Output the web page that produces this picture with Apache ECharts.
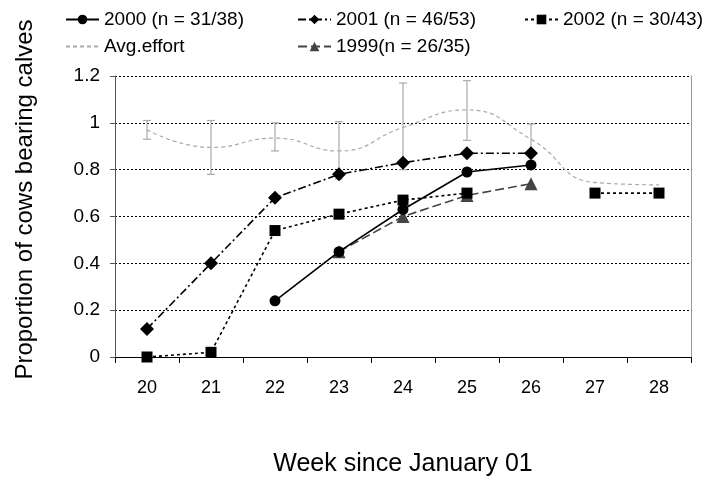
<!DOCTYPE html>
<html>
<head>
<meta charset="utf-8">
<script src="https://cdn.jsdelivr.net/npm/echarts@6/dist/echarts.min.js"></script>
<style>html,body{margin:0;padding:0;background:#fff;}#c{width:721px;height:482px;}</style>
</head>
<body>
<div id="c"></div>
<script>
var weeks = ['20','21','22','23','24','25','26','27','28'];
var y2000 = [null, null, 0.24, 0.45, 0.63, 0.79, 0.82, null, null];
var y2001 = [0.12, 0.40, 0.68, 0.78, 0.83, 0.87, 0.87, null, null];
var y2002 = [0.00, 0.02, 0.54, 0.61, 0.67, 0.70, null, 0.70, 0.70];
var y1999 = [null, null, null, 0.45, 0.60, 0.69, 0.74, null, null];
var avgEffort = [0.97, 0.895, 0.935, 0.88, 0.98, 1.055, 0.93, 0.745, 0.735];
var avgLow  = [0.93, 0.78, 0.88, 0.76, 0.80, 0.925, 0.87, null, null];
var avgHigh = [1.01, 1.01, 1.00, 1.005, 1.17, 1.18, 0.995, null, null];
var yTicks = [0, 0.2, 0.4, 0.6, 0.8, 1, 1.2];
var names = ['2000 (n = 31/38)', '2001 (n = 46/53)', '2002 (n = 30/43)', 'Avg.effort', '1999(n = 26/35)'];

var FONT = "'Liberation Sans', Arial, sans-serif";
var errData = [];
for (var i = 0; i < weeks.length; i++) {
  if (avgLow[i] != null && avgHigh[i] != null) errData.push([i, avgLow[i], avgHigh[i]]);
}

function legendAt(item, left, top) {
  return {
    data: [item], left: left, top: top, padding: 0,
    itemWidth: 33, itemHeight: 12, itemGap: 0,
    textStyle: { fontFamily: FONT, fontSize: 19, color: '#000', padding: [0,0,0,0] },
    selectedMode: false
  };
}

var chart = echarts.init(document.getElementById('c'), null, { renderer: 'canvas' });
chart.setOption({
  animation: false,
  backgroundColor: '#fff',
  legend: [
    legendAt(names[0], 65, 10),
    legendAt(names[1], 297, 10),
    legendAt(names[2], 524, 10),
    legendAt({ name: names[3], itemStyle: { opacity: 0 } }, 65, 37),
    legendAt(names[4], 297, 37)
  ],
  grid: { left: 115, right: 30, top: 76, bottom: 123, containLabel: false },
  xAxis: {
    type: 'category', data: weeks, boundaryGap: true,
    name: 'Week since January 01', nameLocation: 'middle', nameGap: 95,
    nameTextStyle: { fontFamily: FONT, fontSize: 25, color: '#000' },
    axisLine: { lineStyle: { color: '#000', width: 1 } },
    axisTick: { show: true, length: 6, lineStyle: { color: '#000' } },
    axisLabel: { fontFamily: FONT, fontSize: 18, color: '#000', margin: 22 },
    splitLine: { show: false }
  },
  yAxis: [{
    type: 'value', min: 0, max: 1.2, interval: 0.2,
    name: 'Proportion of cows bearing calves', nameLocation: 'middle', nameGap: 78,
    nameTextStyle: { fontFamily: FONT, fontSize: 24, color: '#000', padding: [0,0,0,34] },
    axisLine: { show: true, lineStyle: { color: '#555' } },
    axisTick: { show: true, length: 5, lineStyle: { color: '#555' } },
    axisLabel: { fontFamily: FONT, fontSize: 19, color: '#000', margin: 15,
      formatter: function (v) { return String(Math.round(v * 10) / 10); } },
    splitLine: { show: true, lineStyle: { color: '#000', type: [2, 2], width: 1 } }
  }, {
    type: 'value', min: 0, max: 1.2, interval: 0.2, position: 'right',
    axisLine: { show: true, lineStyle: { color: '#999' } },
    axisTick: { show: false }, axisLabel: { show: false }, splitLine: { show: false }
  }],
  series: [
    {
      type: 'custom', name: 'err', z: 1, silent: true,
      data: errData, encode: { x: 0, y: [1, 2] },
      renderItem: function (params, api) {
        var x = api.value(0);
        var lo = api.coord([x, api.value(1)]);
        var hi = api.coord([x, api.value(2)]);
        var w = 4;
        var st = { stroke: '#aaa', lineWidth: 1.2 };
        return { type: 'group', children: [
          { type: 'line', shape: { x1: lo[0], y1: lo[1], x2: hi[0], y2: hi[1] }, style: st },
          { type: 'line', shape: { x1: hi[0]-w, y1: hi[1], x2: hi[0]+w, y2: hi[1] }, style: st },
          { type: 'line', shape: { x1: lo[0]-w, y1: lo[1], x2: lo[0]+w, y2: lo[1] }, style: st }
        ]};
      }
    },
    {
      name: names[3], type: 'line', data: avgEffort, smooth: 0.5, symbol: 'none', z: 2,
      lineStyle: { color: '#aaa', width: 1.2, type: [4, 3] }, itemStyle: { color: '#aaa' }
    },
    {
      name: names[4], type: 'line', data: y1999, symbol: 'triangle', symbolSize: 13, z: 3,
      lineStyle: { color: '#444', width: 1.6, type: [9, 4] }, itemStyle: { color: '#444' }
    },
    {
      name: names[2], type: 'line', data: y2002, symbol: 'rect', symbolSize: 11, z: 4,
      connectNulls: false,
      lineStyle: { color: '#000', width: 1.6, type: [3, 3] }, itemStyle: { color: '#000' }
    },
    {
      name: names[1], type: 'line', data: y2001, symbol: 'diamond', symbolSize: 14, z: 5,
      lineStyle: { color: '#000', width: 1.6, type: [8, 3, 2, 3] }, itemStyle: { color: '#000' }
    },
    {
      name: names[0], type: 'line', data: y2000, symbol: 'circle', symbolSize: 11, z: 6,
      lineStyle: { color: '#000', width: 1.6, type: 'solid' }, itemStyle: { color: '#000' }
    }
  ]
});
</script>
</body>
</html>
